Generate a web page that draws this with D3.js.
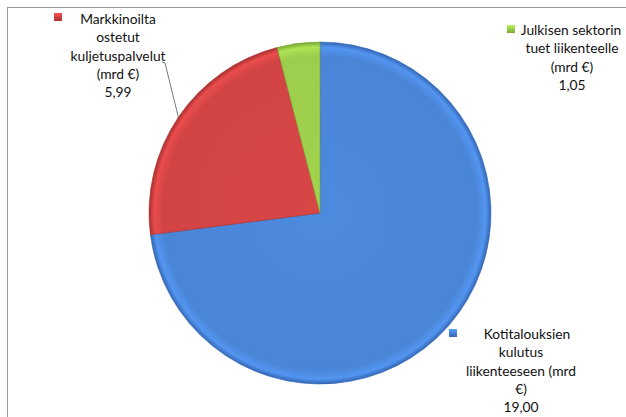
<!DOCTYPE html>
<html lang="fi">
<head>
<meta charset="utf-8">
<title>Liikenteen rahoitus</title>
<script src="https://cdn.jsdelivr.net/npm/d3@7"></script>
<style>
body { margin: 0; background: #fff; }
svg { display: block; }
text { font-family: Lato, "Open Sans", sans-serif; font-size: 13.8px; fill: #111; }
</style>
</head>
<body>
<script>
// data
var categories = ["Kotitalouksien kulutus liikenteeseen (mrd €)",
                  "Markkinoilta ostetut kuljetuspalvelut (mrd €)",
                  "Julkisen sektorin tuet liikenteelle (mrd €)"];
var values = [19.00, 5.99, 1.05];
var valueLabels = ["19,00", "5,99", "1,05"];
// how the label text breaks into lines
var labelLines = [
  ["Kotitalouksien", "kulutus", "liikenteeseen (mrd", "€)"],
  ["Markkinoilta", "ostetut", "kuljetuspalvelut", "(mrd €)"],
  ["Julkisen sektorin", "tuet liikenteelle", "(mrd €)"]
];

var w = 626, h = 417;
var cx = 320, cy = 213, r = 171;
var colors = ["#4a86d8", "#d24444", "#9ccd4c"];
var darker = ["#3466b4", "#a83030", "#7aa832"];

// label placement (center x of text, first line y, marker x)
var labelPos = [
  { x: 521, y: 334, firstX: 527, mx: 449, my: 329 },
  { x: 118, y: 19, firstX: 118, mx: 54, my: 13 },
  { x: 572, y: 30, firstX: 571, mx: 507, my: 25 }
];
var lineH = 18.4;

var svg = d3.select("body").append("svg")
    .attr("width", w)
    .attr("height", h);

// chart frame (only top and left edges visible in the crop)
svg.append("rect")
    .attr("x", 7.5).attr("y", 7.5)
    .attr("width", w + 20).attr("height", h + 20)
    .attr("fill", "none")
    .attr("stroke", "#9a9a9a");

var defs = svg.append("defs");
colors.forEach(function(c, i) {
  // gradient is in the pie group's coordinates, so centred on 0,0
  var g = defs.append("radialGradient")
      .attr("id", "grad" + i)
      .attr("gradientUnits", "userSpaceOnUse")
      .attr("cx", 0).attr("cy", 0).attr("r", r);
  g.append("stop").attr("offset", "0%").attr("stop-color", d3.color(c).brighter(0.08));
  g.append("stop").attr("offset", "92%").attr("stop-color", c);
  g.append("stop").attr("offset", "97%").attr("stop-color", d3.color(c).brighter(0.3));
  g.append("stop").attr("offset", "100%").attr("stop-color", darker[i]);
  var m = defs.append("linearGradient")
      .attr("id", "mgrad" + i)
      .attr("x1", 0).attr("y1", 0).attr("x2", 0).attr("y2", 1);
  m.append("stop").attr("offset", "0%").attr("stop-color", d3.color(c).brighter(0.5));
  m.append("stop").attr("offset", "100%").attr("stop-color", darker[i]);
});

var pie = d3.pie().sort(null).value(function(d) { return d; });
var arcs = pie(values);
var arc = d3.arc().innerRadius(0).outerRadius(r);

var g = svg.append("g").attr("transform", "translate(" + cx + "," + cy + ")");

g.selectAll("path")
    .data(arcs)
    .enter()
    .append("path")
    .attr("d", arc)
    .attr("fill", function(d, i) { return "url(#grad" + i + ")"; })
    .attr("stroke", function(d, i) { return darker[i]; })
    .attr("stroke-width", 0.6);

// leader line for the red slice
var redMid = (arcs[1].startAngle + arcs[1].endAngle) / 2;
var edge = [cx + r * Math.sin(redMid), cy - r * Math.cos(redMid)];
svg.append("polyline")
    .attr("points", [[162, 62], [165, 63], edge].map(function(p) { return p.join(","); }).join(" "))
    .attr("fill", "none")
    .attr("stroke", "#555")
    .attr("stroke-width", 0.8);

// labels
var labels = svg.selectAll("g.label")
    .data(categories)
    .enter()
    .append("g")
    .attr("class", "label");

labels.append("rect")
    .attr("x", function(d, i) { return labelPos[i].mx; })
    .attr("y", function(d, i) { return labelPos[i].my; })
    .attr("width", 8).attr("height", 8)
    .attr("fill", function(d, i) { return "url(#mgrad" + i + ")"; });

labels.each(function(d, i) {
  var lines = labelLines[i].concat([valueLabels[i]]);
  var sel = d3.select(this);
  lines.forEach(function(t, j) {
    sel.append("text")
        .attr("x", j === 0 ? labelPos[i].firstX : labelPos[i].x)
        .attr("y", labelPos[i].y + j * lineH)
        .attr("dy", "0.35em")
        .attr("text-anchor", "middle")
        .text(t);
  });
});
</script>
</body>
</html>
